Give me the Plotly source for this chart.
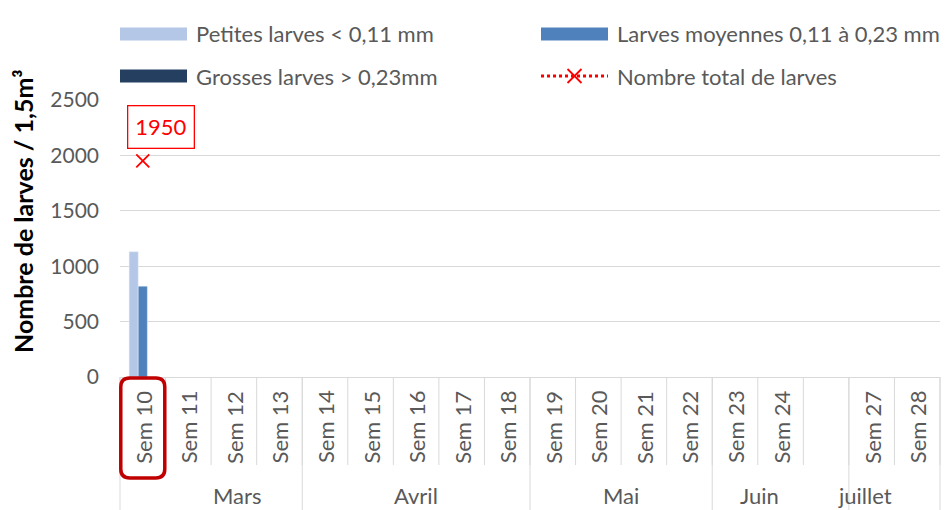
import plotly.graph_objects as go

weeks = ["Sem 10", "Sem 11", "Sem 12", "Sem 13", "Sem 14", "Sem 15", "Sem 16", "Sem 17", "Sem 18",
         "Sem 19", "Sem 20", "Sem 21", "Sem 22", "Sem 23", "Sem 24", "", "Sem 27", "Sem 28"]
months = ["Mars", "Avril", "Mai", "Juin", "juillet"]
month_spans = [4, 5, 4, 3, 2]

petites = [1130] + [None] * 17
moyennes = [820] + [None] * 17
grosses = [0] + [None] * 17
total = [1950] + [None] * 17

series_names = ["Petites larves < 0,11 mm", "Larves moyennes 0,11 à 0,23 mm",
                "Grosses larves > 0,23mm", "Nombre total de larves"]
bar_colors = ["#b4c7e7", "#4f81bd", "#243f60"]
RED = "#ff0000"

FONT = "Lato"
GRAY = "#595959"
GRID = "#d9d9d9"
OFF = 8  # page body margin
# screen-pixel layout of the plot area
SL, ST, SR, SB = 120, 100, 940, 377
W, H = 951 - OFF, 510 - OFF
ML, MT = SL - OFF, ST - OFF
PW, PH = SR - SL, SB - ST
MR, MB = W - ML - PW, H - MT - PH
n = len(weeks)
xs = list(range(n))


def px_x(p):
    return (p - SL) / PW


def px_y(p):
    return (SB - p) / PH


fig = go.Figure()
for vals, name, col in zip([petites, moyennes, grosses], series_names[:3], bar_colors):
    fig.add_trace(go.Bar(x=xs, y=vals, name=name, marker_color=col, showlegend=False))
fig.add_trace(go.Scatter(x=xs, y=total, name=series_names[3], mode="lines+markers",
                         line=dict(color=RED, dash="dot", width=2),
                         marker=dict(symbol="x-thin", size=13, line=dict(color=RED, width=1.8)),
                         showlegend=False))

annotations = []
shapes = []
# total label
annotations.append(dict(x=0, y=total[0], xref="x", yref="y", text=str(total[0]), showarrow=False,
                        xshift=18, yshift=34, font=dict(family=FONT, size=22, color=RED),
                        bordercolor=RED, borderwidth=1.3, borderpad=7, bgcolor="white"))

# week labels + separators
for i, w in enumerate(weeks):
    if w:
        annotations.append(dict(x=i, y=px_y(427), xref="x", yref="paper", text=w, textangle=-90,
                                showarrow=False, yanchor="middle", xanchor="center",
                                font=dict(family=FONT, size=22, color=GRAY)))
for i in range(n + 1):
    shapes.append(dict(type="line", xref="paper", yref="paper", x0=i / n, x1=i / n,
                       y0=0, y1=px_y(465), line=dict(color=GRID, width=1)))
# month labels + separators
start = 0
bounds = [0]
for m, s in zip(months, month_spans):
    annotations.append(dict(x=(2 * start + s) / 2 / n, y=px_y(495), xref="paper", yref="paper", text=m,
                            showarrow=False, yanchor="middle", font=dict(family=FONT, size=22, color=GRAY)))
    start += s
    bounds.append(start)
for b in bounds:
    shapes.append(dict(type="line", xref="paper", yref="paper", x0=b / n, x1=b / n,
                       y0=0, y1=px_y(510), line=dict(color=GRID, width=1)))

# rounded red box around the first week
cx = 0.5 / n
hw = 22 / PW
x0, x1 = cx - hw, cx + hw
y0, y1 = px_y(378), px_y(478)
rx, ry = 9 / PW, 9 / PH
path = (f"M {x0+rx},{y0} L {x1-rx},{y0} Q {x1},{y0} {x1},{y0-ry} L {x1},{y1+ry} "
        f"Q {x1},{y1} {x1-rx},{y1} L {x0+rx},{y1} Q {x0},{y1} {x0},{y1+ry} "
        f"L {x0},{y0-ry} Q {x0},{y0} {x0+rx},{y0} Z")
shapes.append(dict(type="path", xref="paper", yref="paper", path=path,
                   line=dict(color="#c00000", width=3.5)))

# manual legend (2 x 2)
leg_cols = [120, 541]
leg_rows = [34, 76]
for k, name in enumerate(series_names):
    cxp = leg_cols[k % 2]
    cyp = leg_rows[k // 2]
    if k < 3:
        shapes.append(dict(type="rect", xref="paper", yref="paper",
                           x0=px_x(cxp), x1=px_x(cxp + 67), y0=px_y(cyp - 6.5), y1=px_y(cyp + 6.5),
                           fillcolor=bar_colors[k], line=dict(width=0)))
    else:
        shapes.append(dict(type="line", xref="paper", yref="paper",
                           x0=px_x(cxp), x1=px_x(cxp + 67), y0=px_y(cyp), y1=px_y(cyp),
                           line=dict(color=RED, width=3, dash="3px,3px")))
        mx = cxp + 33.5
        for d in (1, -1):
            shapes.append(dict(type="line", xref="paper", yref="paper",
                               x0=px_x(mx - 7), x1=px_x(mx + 7), y0=px_y(cyp - 7 * d), y1=px_y(cyp + 7 * d),
                               line=dict(color=RED, width=1.8)))
    annotations.append(dict(x=px_x(cxp + 74), y=px_y(cyp), xref="paper", yref="paper", text=name,
                            showarrow=False, xanchor="left", yanchor="middle",
                            font=dict(family=FONT, size=22, color=GRAY)))

# y axis title
annotations.append(dict(x=px_x(23), y=px_y(211), xref="paper", yref="paper",
                        text="<b>Nombre de larves / 1,5m³</b>", textangle=-90, showarrow=False,
                        xanchor="center", yanchor="middle", font=dict(family=FONT, size=25, color="black")))

fig.update_layout(
    width=W, height=H,
    margin=dict(l=ML, r=MR, t=MT, b=MB, autoexpand=False),
    plot_bgcolor="white", paper_bgcolor="white",
    barmode="group", bargap=0.4, bargroupgap=0,
    font=dict(family=FONT, color=GRAY),
    showlegend=False,
    xaxis=dict(range=[-0.5, n - 0.5], showticklabels=False, showgrid=False, zeroline=False,
               showline=True, linecolor=GRID, linewidth=1, ticks=""),
    yaxis=dict(range=[0, 2500], dtick=500, showgrid=True, gridcolor=GRID, gridwidth=1, zeroline=False,
               tickfont=dict(family=FONT, size=21, color=GRAY), ticks="", ticklabelstandoff=20,
               automargin=False),
    annotations=annotations, shapes=shapes,
)

fig.write_html("out.html")
